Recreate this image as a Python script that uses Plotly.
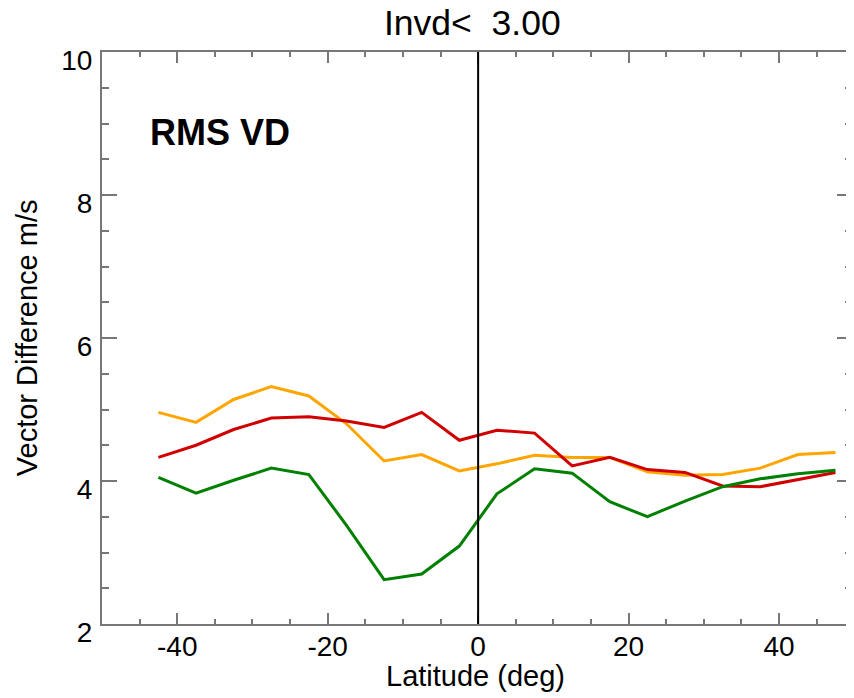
import plotly.graph_objects as go

lat = [-42.5, -37.5, -32.5, -27.5, -22.5, -17.5, -12.5, -7.5, -2.5, 2.5,
       7.5, 12.5, 17.5, 22.5, 27.5, 32.5, 37.5, 42.5, 47.5]

orange_vals = [4.96, 4.82, 5.14, 5.32, 5.19, 4.80, 4.28, 4.37, 4.14, 4.24,
               4.36, 4.33, 4.33, 4.13, 4.08, 4.09, 4.18, 4.37, 4.40]
red_vals = [4.33, 4.50, 4.72, 4.88, 4.90, 4.84, 4.75, 4.96, 4.57, 4.71,
            4.67, 4.21, 4.33, 4.16, 4.12, 3.93, 3.92, 4.02, 4.12]
green_vals = [4.05, 3.83, 4.01, 4.18, 4.09, 3.38, 2.62, 2.70, 3.09, 3.82,
              4.17, 4.11, 3.71, 3.50, 3.72, 3.92, 4.03, 4.10, 4.15]

x_ticks = [-40, -20, 0, 20, 40]
y_ticks = [2, 4, 6, 8, 10]

FONT = "Liberation Sans, Arial, Helvetica, sans-serif"
AX = "#777777"

fig = go.Figure()
for vals, col in [(orange_vals, "#FFA500"), (red_vals, "#D00000"), (green_vals, "#008000")]:
    fig.add_trace(go.Scatter(x=lat, y=vals, mode="lines",
                             line=dict(color=col, width=3), showlegend=False))

fig.add_shape(type="line", x0=0, x1=0, y0=0, y1=1, xref="x", yref="paper",
              line=dict(color="black", width=2))

fig.update_layout(
    width=846, height=690,
    margin=dict(l=94, r=0, t=44, b=74),
    paper_bgcolor="white", plot_bgcolor="white",
    font=dict(family=FONT, size=28, color="black"),
    xaxis=dict(range=[-50, 49.7], tickvals=x_ticks, ticktext=[str(v) for v in x_ticks],
               ticks="inside", ticklen=11, tickwidth=2, tickcolor=AX,
               showline=True, linecolor=AX, linewidth=2, mirror="ticks",
               showgrid=False, zeroline=False,
               minor=dict(dtick=5, ticks="inside", ticklen=5, tickwidth=2, tickcolor=AX, showgrid=False),
               tickfont=dict(size=28), ticklabelstandoff=-4),
    yaxis=dict(range=[2, 10], tickvals=y_ticks, ticktext=[str(v) for v in y_ticks],
               ticks="inside", ticklen=15, tickwidth=2, tickcolor=AX,
               showline=True, linecolor=AX, linewidth=2, mirror="ticks",
               showgrid=False, zeroline=False,
               minor=dict(dtick=0.5, ticks="inside", ticklen=7, tickwidth=2, tickcolor=AX, showgrid=False),
               tickfont=dict(size=28), ticklabelshift=8, ticklabelstandoff=2),
)

fig.add_annotation(text="Invd<  3.00", xref="paper", yref="paper",
                   x=(473.5 - 102) / 752, y=(623.7 - 23) / 572,
                   xanchor="center", yanchor="middle", showarrow=False,
                   font=dict(size=35.5, family=FONT, color="black"))
fig.add_annotation(text="Latitude (deg)", xref="paper", yref="paper",
                   x=(476.5 - 102) / 752, y=(623.7 - 676) / 572,
                   xanchor="center", yanchor="middle", showarrow=False,
                   font=dict(size=29, family=FONT, color="black"))
fig.add_annotation(text="Vector Difference m/s", xref="paper", yref="paper",
                   x=(27 - 102) / 752, y=0.5, textangle=-90,
                   xanchor="center", yanchor="middle", showarrow=False,
                   font=dict(size=29, family=FONT, color="black"))
fig.add_annotation(text="<b>RMS VD</b>", xref="paper", yref="paper",
                   x=(148 - 102) / 752, y=(623.7 - 132) / 572,
                   xanchor="left", yanchor="middle", showarrow=False,
                   font=dict(size=36, family=FONT, color="black"))

fig.write_html("out.html")
